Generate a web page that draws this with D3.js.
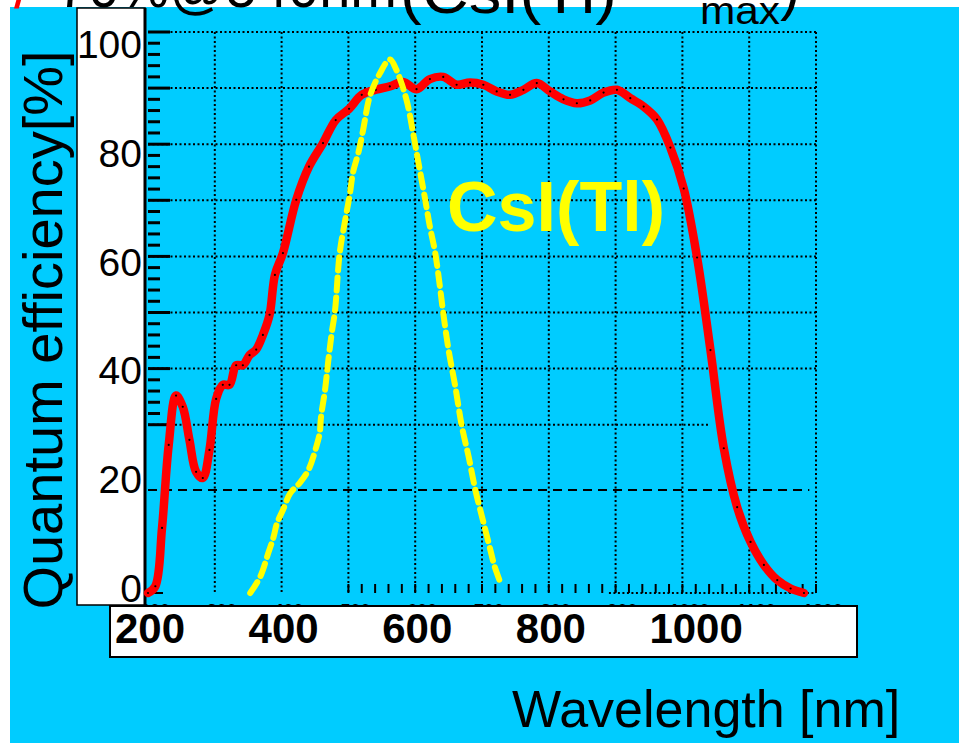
<!DOCTYPE html>
<html>
<head>
<meta charset="utf-8">
<script src="https://cdn.jsdelivr.net/npm/d3@7"></script>
<style>
  body { margin: 0; background: #fff; }
  svg { display: block; font-family: "Liberation Sans", Arial, sans-serif; }
</style>
</head>
<body>
<svg id="chart"></svg>
<script>
// photodiode quantum efficiency (red) and CsI(Tl) emission (yellow)
const qeWavelength = [200, 211, 221, 231, 242, 252, 262, 272, 282, 292, 302, 312, 322, 332, 342, 352, 362, 372, 382, 390,
    402, 422, 441, 462, 481, 501, 520, 541, 562, 582, 602, 622, 642, 662, 682, 702, 722, 742, 762, 782,
    802, 822, 842, 862, 882, 902, 922, 942, 962, 982, 1002, 1022, 1042, 1062, 1082, 1102, 1122, 1142, 1162, 1182];
const qeValue = [0, 1.2, 11.6, 26.4, 35.2, 33.2, 27.3, 21.6, 20.5, 25.5, 34.6, 37.1, 37.1, 40.6, 40.6, 42.4, 43.4, 46.0, 49.6, 56.7,
    60.6, 70.1, 76.0, 80.2, 84.3, 86.3, 88.8, 89.7, 90.3, 91.1, 89.8, 91.6, 92.0, 90.6, 91.0, 90.6, 89.4, 88.8, 89.7, 90.9,
    89.4, 88.0, 87.3, 87.8, 89.2, 89.7, 88.2, 86.7, 84.4, 79.4, 72.1, 59.8, 43.3, 25.8, 15.3, 9.1, 5.0, 2.3, 0.8, 0];

const csiWavelength = [353, 368, 380, 388, 393, 402, 413, 427, 440, 452, 457, 459, 465, 470, 475, 480, 487, 496, 502, 507,
    515, 522, 532, 547, 562, 572, 587, 597, 605, 615, 622, 630, 637, 642, 650, 660, 670, 680, 690, 700, 710, 719, 729];
const csiValue = [0, 2.9, 7.1, 10.0, 12.4, 14.8, 17.8, 19.6, 21.9, 26.1, 28.5, 31.4, 36.2, 41.5, 46.3, 50.4, 60.6, 67.0, 71.0, 75.0,
    78.5, 82.5, 88.5, 92.6, 95.1, 93.2, 87.9, 81.9, 76.6, 70.1, 65.3, 60.6, 54.6, 49.9, 43.3, 36.8, 29.6, 24.3, 18.4, 13.6, 8.9, 4.7, 1.4];

const yTickLabels = [0, 20, 40, 60, 80, 100];
const xTickLabels = [200, 400, 600, 800, 1000];
const xHiddenLabels = d3.range(200, 1201, 100);
const yGridValues = d3.range(30, 101, 10);
const xGridValues = d3.range(300, 1201, 100);

const width = 967;
const height = 743;
const svg = d3.select("#chart").attr("width", width).attr("height", height);

const x = d3.scaleLinear().domain([200, 1200]).range([148, 816]);
const y = d3.scaleLinear().domain([0, 100]).range([593, 32]);
// the pasted-in emission plot has its own, slightly different grid
const yOverlay = d3.scaleLinear().domain([0, 100]).range([593, 78]);
// tick labels sit in a separate white strip, not quite on the grid
const yLabel = d3.scaleLinear().domain([0, 100]).range([588, 44]);

svg.append("rect").attr("width", width).attr("height", height).attr("fill", "#fff");
svg.append("rect").attr("x", 10).attr("y", 7).attr("width", 949).attr("height", 736).attr("fill", "#00ccff");

// old axis labels, mostly covered by the label box
svg.append("g").selectAll("text")
    .data(xHiddenLabels)
    .enter()
    .append("text")
    .attr("x", (d) => x(d) + 7)
    .attr("y", 617)
    .attr("text-anchor", "middle")
    .attr("font-size", 18)
    .attr("font-weight", "bold")
    .text((d) => d);

// grid
const grid = svg.append("g").attr("stroke", "#000").attr("fill", "none");
grid.selectAll(".hgrid")
    .data(yGridValues)
    .enter()
    .append("line")
    .attr("x1", 148).attr("x2", (d) => d === 30 ? x(1040) : x(1200))
    .attr("y1", (d) => y(d)).attr("y2", (d) => y(d))
    .attr("stroke-width", 2)
    .attr("stroke-dasharray", "2,2.5");
grid.selectAll(".vgrid")
    .data(xGridValues)
    .enter()
    .append("line")
    .attr("x1", (d) => x(d)).attr("x2", (d) => x(d))
    .attr("y1", y(100)).attr("y2", y(0))
    .attr("stroke-width", 2)
    .attr("stroke-dasharray", "2,2.5");
grid.append("line")
    .attr("x1", 148).attr("x2", x(1190))
    .attr("y1", yOverlay(20)).attr("y2", yOverlay(20))
    .attr("stroke-width", 2)
    .attr("stroke-dasharray", "9,6");
grid.append("line")
    .attr("x1", x(890)).attr("x2", x(1200))
    .attr("y1", y(0)).attr("y2", y(0))
    .attr("stroke-width", 2)
    .attr("stroke-dasharray", "2,2.5");

// left ticks
grid.selectAll(".ytick")
    .data(d3.range(30, 101, 2))
    .enter()
    .append("line")
    .attr("x1", 148).attr("x2", (d) => d % 10 === 0 ? 170 : 160)
    .attr("y1", (d) => y(d)).attr("y2", (d) => y(d))
    .attr("stroke-width", 3);
grid.append("line")
    .attr("x1", 148).attr("x2", 163)
    .attr("y1", y(0)).attr("y2", y(0))
    .attr("stroke-width", 2);

// bottom ticks
grid.selectAll(".xtick")
    .data(d3.range(500, 1201, 20))
    .enter()
    .append("line")
    .attr("x1", (d) => x(d)).attr("x2", (d) => x(d))
    .attr("y1", y(0) - 9).attr("y2", y(0))
    .attr("stroke-width", 2);

// boxes for the tick labels
svg.append("rect")
    .attr("x", 77).attr("y", 8).attr("width", 68).attr("height", 597)
    .attr("fill", "#fff").attr("stroke", "#000").attr("stroke-width", 1.5);
svg.append("line")
    .attr("x1", 145).attr("x2", 145).attr("y1", 8).attr("y2", 605)
    .attr("stroke", "#000").attr("stroke-width", 3);
svg.append("rect")
    .attr("x", 110).attr("y", 606).attr("width", 747).attr("height", 51)
    .attr("fill", "#fff").attr("stroke", "#000").attr("stroke-width", 2);

// curves
const qe = qeWavelength.map((w, i) => ({ w: w, v: qeValue[i] }));
const csi = csiWavelength.map((w, i) => ({ w: w, v: csiValue[i] }));

const line = d3.line()
    .x((d) => x(d.w))
    .y((d) => y(d.v))
    .curve(d3.curveCatmullRom);

svg.append("path")
    .datum(qe)
    .attr("d", line)
    .attr("fill", "none")
    .attr("stroke", "#ff0000")
    .attr("stroke-width", 8.5)
    .attr("stroke-linejoin", "round")
    .attr("stroke-linecap", "round");

svg.append("g").selectAll("circle")
    .data(qe)
    .enter()
    .append("circle")
    .attr("cx", (d) => x(d.w))
    .attr("cy", (d) => y(d.v))
    .attr("r", 1.1)
    .attr("fill", "#000");

svg.append("path")
    .datum(csi)
    .attr("d", line)
    .attr("fill", "none")
    .attr("stroke", "#ffff00")
    .attr("stroke-width", 6)
    .attr("stroke-dasharray", "13,7")
    .attr("stroke-linecap", "round");

// tick labels
svg.append("g").selectAll("text")
    .data(yTickLabels)
    .enter()
    .append("text")
    .attr("x", 142)
    .attr("y", (d) => yLabel(d))
    .attr("dy", "0.36em")
    .attr("text-anchor", "end")
    .attr("font-size", 39)
    .text((d) => d);

svg.append("g").selectAll("text")
    .data(xTickLabels)
    .enter()
    .append("text")
    .attr("x", (d) => x(d) - 33)
    .attr("y", 643)
    .attr("font-size", 42)
    .attr("font-weight", "bold")
    .text((d) => d);

// axis titles
svg.append("text")
    .attr("transform", "translate(62,330) rotate(-90)")
    .attr("text-anchor", "middle")
    .attr("font-size", 56)
    .text("Quantum efficiency[%]");

svg.append("text")
    .attr("x", 512)
    .attr("y", 727)
    .attr("font-size", 52)
    .text("Wavelength [nm]");

svg.append("text")
    .attr("x", 447)
    .attr("y", 231)
    .attr("font-size", 70)
    .attr("font-weight", "bold")
    .attr("fill", "#ffff00")
    .attr("textLength", 218)
    .attr("lengthAdjust", "spacingAndGlyphs")
    .text("CsI(Tl)");

// slide title, cut off at the top edge
svg.append("text")
    .attr("x", 14).attr("y", 8)
    .attr("font-size", 60)
    .attr("fill", "#ff0000")
    .text("/");
svg.append("text")
    .attr("x", 57).attr("y", 7)
    .attr("font-size", 60)
    .attr("textLength", 340)
    .attr("lengthAdjust", "spacingAndGlyphs")
    .text("70%@540nm");
svg.append("text")
    .attr("x", 400).attr("y", 13)
    .attr("font-size", 60)
    .attr("textLength", 217)
    .attr("lengthAdjust", "spacingAndGlyphs")
    .text("(CsI(Tl)");
svg.append("text")
    .attr("x", 700).attr("y", 24)
    .attr("font-size", 38)
    .attr("textLength", 80)
    .attr("lengthAdjust", "spacingAndGlyphs")
    .text("max");
svg.append("text")
    .attr("x", 780).attr("y", 9)
    .attr("font-size", 60)
    .text(")");
</script>
</body>
</html>
